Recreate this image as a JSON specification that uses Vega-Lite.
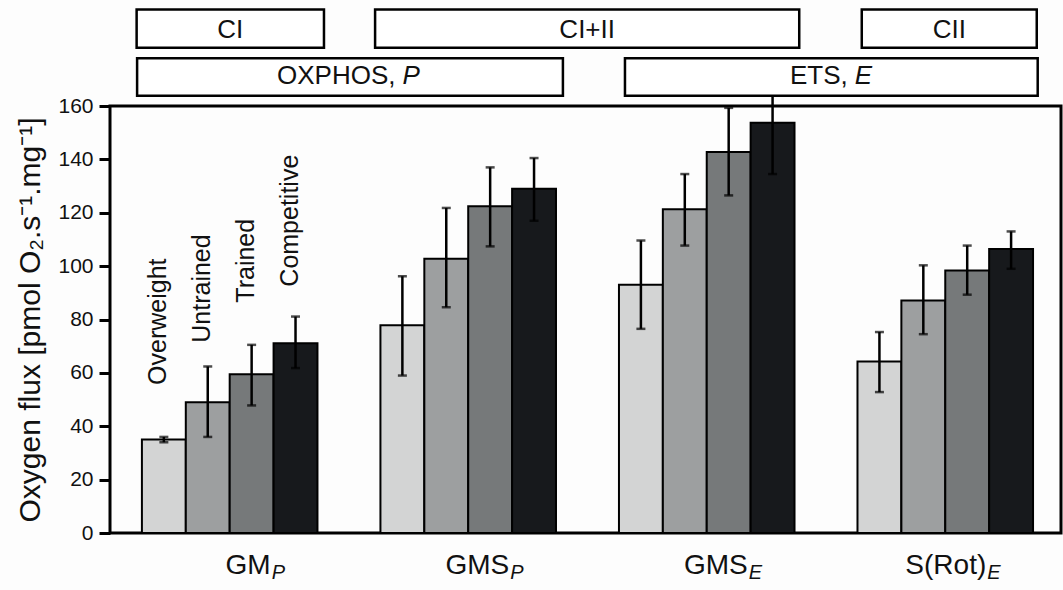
{
  "$schema": "https://vega.github.io/schema/vega-lite/v6.json",
  "width": 951,
  "height": 427,
  "autosize": {"type": "none"},
  "padding": {"left": 110, "top": 106, "right": 2, "bottom": 57},
  "background": "#fdfdfd",
  "config": {
    "view": {"stroke": "#000000", "strokeWidth": 3},
    "font": "Liberation Sans",
    "text": {"font": "Liberation Sans", "color": "#111111"}
  },
  "datasets": {
    "bars": [
      {"group": "GM_P", "category": "Overweight", "value": 35.0, "lo": 34.0, "hi": 36.0},
      {"group": "GM_P", "category": "Untrained", "value": 49.0, "lo": 36.0, "hi": 62.4},
      {"group": "GM_P", "category": "Trained", "value": 59.5, "lo": 47.8, "hi": 70.5},
      {"group": "GM_P", "category": "Competitive", "value": 71.1, "lo": 61.8, "hi": 81.1},
      {"group": "GMS_P", "category": "Overweight", "value": 77.8, "lo": 59.0, "hi": 96.2},
      {"group": "GMS_P", "category": "Untrained", "value": 102.8, "lo": 84.6, "hi": 121.8},
      {"group": "GMS_P", "category": "Trained", "value": 122.4, "lo": 107.4, "hi": 137.0},
      {"group": "GMS_P", "category": "Competitive", "value": 129.0, "lo": 117.0, "hi": 140.5},
      {"group": "GMS_E", "category": "Overweight", "value": 93.0, "lo": 76.5, "hi": 109.6},
      {"group": "GMS_E", "category": "Untrained", "value": 121.3, "lo": 107.7, "hi": 134.5},
      {"group": "GMS_E", "category": "Trained", "value": 142.8, "lo": 126.5, "hi": 159.3},
      {"group": "GMS_E", "category": "Competitive", "value": 153.7, "lo": 134.5, "hi": 173.0},
      {"group": "S(Rot)_E", "category": "Overweight", "value": 64.3, "lo": 52.8, "hi": 75.3},
      {"group": "S(Rot)_E", "category": "Untrained", "value": 87.1, "lo": 74.5, "hi": 100.3},
      {"group": "S(Rot)_E", "category": "Trained", "value": 98.4, "lo": 89.3, "hi": 107.7},
      {"group": "S(Rot)_E", "category": "Competitive", "value": 106.4, "lo": 99.0, "hi": 113.0}
    ],
    "catlabels": [
      {"group": "GM_P", "category": "Overweight", "labelAt": 55.5},
      {"group": "GM_P", "category": "Untrained", "labelAt": 71.3},
      {"group": "GM_P", "category": "Trained", "labelAt": 86.3},
      {"group": "GM_P", "category": "Competitive", "labelAt": 92.3}
    ],
    "xlabels": [
      {"group": "GM_P", "base": "GM", "sub": "P", "at": -15.2},
      {"group": "GMS_P", "base": "GMS", "sub": "P", "at": -15.2},
      {"group": "GMS_E", "base": "GMS", "sub": "E", "at": -15.2},
      {"group": "S(Rot)_E", "base": "S(Rot)", "sub": "E", "at": -15.2}
    ],
    "boxes": [
      {"row": 1, "label": "CI", "italic": "", "from": 0.612, "to": 1.4, "at": 1.006, "lo": 181.8, "hi": 196.2, "mid": 188.4},
      {"row": 1, "label": "CI+II", "italic": "", "from": 1.615, "to": 3.399, "at": 2.507, "lo": 181.8, "hi": 196.2, "mid": 188.4},
      {"row": 1, "label": "CII", "italic": "", "from": 3.662, "to": 4.398, "at": 4.03, "lo": 181.8, "hi": 196.2, "mid": 188.4},
      {"row": 2, "label": "OXPHOS,", "italic": "P", "from": 0.614, "to": 2.405, "at": 1.701, "lo": 163.8, "hi": 177.9, "mid": 171.1},
      {"row": 2, "label": "ETS,", "italic": "E", "from": 2.666, "to": 4.402, "at": 3.603, "lo": 163.8, "hi": 177.9, "mid": 171.1}
    ]
  },
  "layer": [
    {
      "encoding": {
        "x": {
          "field": "group",
          "type": "nominal",
          "scale": {"domain": ["GM_P", "GMS_P", "GMS_E", "S(Rot)_E"], "paddingInner": 0.264, "paddingOuter": 0.1255, "align": 0.533},
          "axis": null
        }
      },
      "layer": [
        {
          "data": {"name": "bars"},
          "mark": {"type": "bar", "stroke": "#000000", "strokeWidth": 2},
          "encoding": {
            "xOffset": {"field": "category", "type": "nominal", "scale": {"domain": ["Overweight", "Untrained", "Trained", "Competitive"], "paddingInner": 0, "paddingOuter": 0}},
            "y": {
              "field": "value",
              "type": "quantitative",
              "scale": {"domain": [0, 160], "nice": false},
              "axis": {
                "title": "Oxygen flux [pmol O₂.s⁻¹.mg⁻¹]",
                "values": [0, 20, 40, 60, 80, 100, 120, 140, 160],
                "grid": false,
                "domain": false,
                "tickSize": 11,
                "tickWidth": 3,
                "tickColor": "#000000",
                "labelFontSize": 21,
                "labelColor": "#111111",
                "labelPadding": 6,
                "titleFontSize": 30,
                "titleFontWeight": "normal",
                "titleColor": "#111111",
                "titlePadding": 12
              }
            },
            "color": {
              "field": "category",
              "type": "nominal",
              "scale": {"domain": ["Overweight", "Untrained", "Trained", "Competitive"], "range": ["#d3d4d4", "#9d9fa0", "#76797a", "#17191c"]},
              "legend": null
            }
          }
        },
        {
          "data": {"name": "bars"},
          "mark": {"type": "rule", "color": "#000000", "strokeWidth": 2.5},
          "encoding": {
            "xOffset": {"field": "category", "type": "nominal"},
            "y": {"field": "lo", "type": "quantitative", "scale": {"domain": [0, 160], "nice": false}},
            "y2": {"field": "hi"}
          }
        },
        {
          "data": {"name": "bars"},
          "mark": {"type": "tick", "color": "#000000", "size": 9, "thickness": 2.5, "orient": "horizontal"},
          "encoding": {
            "xOffset": {"field": "category", "type": "nominal"},
            "y": {"field": "lo", "type": "quantitative", "scale": {"domain": [0, 160], "nice": false}}
          }
        },
        {
          "data": {"name": "bars"},
          "mark": {"type": "tick", "color": "#000000", "size": 9, "thickness": 2.5, "orient": "horizontal"},
          "encoding": {
            "xOffset": {"field": "category", "type": "nominal"},
            "y": {"field": "hi", "type": "quantitative", "scale": {"domain": [0, 160], "nice": false}}
          }
        },
        {
          "data": {"name": "catlabels"},
          "mark": {"type": "text", "angle": 270, "align": "left", "baseline": "middle", "fontSize": 25, "dy": -6},
          "encoding": {
            "xOffset": {"field": "category", "type": "nominal"},
            "y": {"field": "labelAt", "type": "quantitative", "scale": {"domain": [0, 160], "nice": false}},
            "text": {"field": "category"}
          }
        },
        {
          "data": {"name": "xlabels"},
          "mark": {"type": "text", "align": "right", "baseline": "alphabetic", "fontSize": 28, "dx": 41},
          "encoding": {
            "y": {"field": "at", "type": "quantitative", "scale": {"domain": [0, 160], "nice": false}},
            "text": {"field": "base"}
          }
        },
        {
          "data": {"name": "xlabels"},
          "mark": {"type": "text", "align": "left", "baseline": "alphabetic", "fontSize": 20, "fontStyle": "italic", "dx": 42, "dy": 5.5},
          "encoding": {
            "y": {"field": "at", "type": "quantitative", "scale": {"domain": [0, 160], "nice": false}},
            "text": {"field": "sub"}
          }
        }
      ]
    },
    {
      "data": {"name": "boxes"},
      "encoding": {
        "x": {"field": "from", "type": "quantitative", "scale": {"domain": [0.5, 4.5], "nice": false, "zero": false}, "axis": null}
      },
      "layer": [
        {
          "mark": {"type": "rect", "fill": "#ffffff", "stroke": "#000000", "strokeWidth": 2.5},
          "encoding": {
            "x2": {"field": "to"},
            "y": {"field": "lo", "type": "quantitative", "scale": {"domain": [0, 160], "nice": false}},
            "y2": {"field": "hi"}
          }
        },
        {
          "transform": [{"filter": "datum.row == 1"}],
          "mark": {"type": "text", "align": "center", "baseline": "middle", "fontSize": 26},
          "encoding": {
            "x": {"field": "at", "type": "quantitative", "scale": {"domain": [0.5, 4.5], "nice": false, "zero": false}, "axis": null},
            "y": {"field": "mid", "type": "quantitative", "scale": {"domain": [0, 160], "nice": false}},
            "text": {"field": "label"}
          }
        },
        {
          "transform": [{"filter": "datum.row == 2"}],
          "mark": {"type": "text", "align": "right", "baseline": "middle", "fontSize": 26},
          "encoding": {
            "x": {"field": "at", "type": "quantitative", "scale": {"domain": [0.5, 4.5], "nice": false, "zero": false}, "axis": null},
            "y": {"field": "mid", "type": "quantitative", "scale": {"domain": [0, 160], "nice": false}},
            "text": {"field": "label"}
          }
        },
        {
          "transform": [{"filter": "datum.row == 2"}],
          "mark": {"type": "text", "align": "left", "baseline": "middle", "fontSize": 26, "fontStyle": "italic", "dx": 7},
          "encoding": {
            "x": {"field": "at", "type": "quantitative", "scale": {"domain": [0.5, 4.5], "nice": false, "zero": false}, "axis": null},
            "y": {"field": "mid", "type": "quantitative", "scale": {"domain": [0, 160], "nice": false}},
            "text": {"field": "italic"}
          }
        }
      ]
    }
  ],
  "resolve": {"scale": {"x": "independent"}}
}
